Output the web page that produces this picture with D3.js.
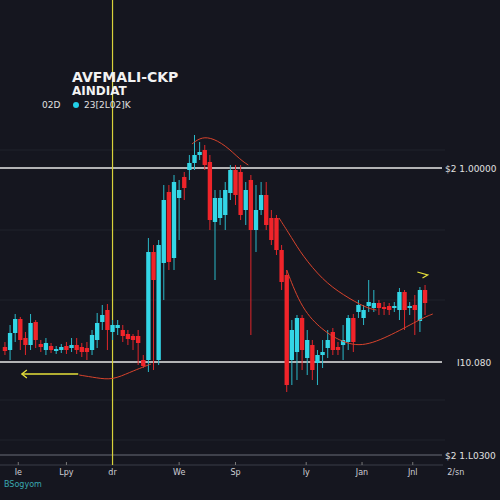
<!DOCTYPE html>
<html>
<head>
<meta charset="utf-8">
<script src="https://cdn.jsdelivr.net/npm/d3@7"></script>
<style>
  body { margin: 0; background: #15161f; }
  text { font-family: "DejaVu Sans", sans-serif; }
</style>
</head>
<body>
<div id="chart-area"></div>
<script>
// candles: [open, close, high, low]
var candles = [
    [153,149,158,145],[150,167,175,140],[167,181,186,158],[181,160,183,150],[162,155,168,145],
    [155,177,186,150],[178,160,180,152],[156,153,160,148],[150,157,162,145],[154,150,157,147],
    [149,151,154,146],[150,153,156,147],[154,150,158,146],[152,155,162,148],[155,150,162,146],
    [153,148,157,143],[152,148,158,140],[150,165,170,145],[160,177,187,152],[178,185,195,170],
    [190,170,196,150],[168,175,180,160],[172,175,180,165],[170,164,175,158],[166,161,170,155],
    [164,160,166,150],[164,157,170,135],[140,134,145,132],[140,248,262,128],[248,220,255,130],
    [140,255,260,135],[237,300,315,200],[308,238,315,230],[242,318,325,230],[302,310,320,260],
    [323,312,328,300],[330,337,345,320],[337,345,365,330],[345,348,358,340],[350,335,355,330],
    [338,280,345,270],[278,302,310,220],[282,302,310,275],[285,310,318,270],[307,330,335,300],
    [330,305,335,295],[328,285,335,280],[290,310,318,275],[320,270,325,165],[270,290,315,248],
    [290,305,318,285],[305,275,318,270],[282,260,290,255],[282,250,285,245],[250,218,255,210],
    [225,115,230,108],[140,170,180,115],[148,182,185,120],[182,150,185,130],[142,160,170,125],
    [155,130,160,120],[137,145,150,115],[145,148,160,132],[152,160,170,142],[168,150,172,145],
    [153,150,158,145],[155,160,175,140],[158,182,185,150],[182,158,186,148],[188,195,200,182],
    [182,190,195,175],[194,198,220,188],[192,197,210,188],[197,192,200,185],[193,191,198,185],
    [194,190,197,185],[192,194,198,188],[190,208,212,180],[208,190,210,170],[192,194,198,185],
    [195,190,205,165],[179,210,213,168],[210,197,215,185]
];

// overlay curves: [index, price]
var curveLow = [[14.5,125],[18,122],[21,120],[24.5,128],[27,133],[28.5,136]];
var curvePeak = [[36.5,356],[38,362],[40,363],[43,355],[46,340],[47.5,335]];
var curveUpper = [[53.5,282],[56,262],[58,245],[62,220],[66,205],[70.5,192],[72.5,190]];
var curveLower = [[55,230],[58,190],[62,170],[65,160],[69.5,152],[75.5,165],[81.5,182],[83.5,186]];
var arrowLine = [[3.3,126],[14.3,126]];

var levelPrices = [332, 138, 45];
var levelLabels = ["$2 1.00000", "I10.080", "$2 1.L0300"];
var monthLabels = ["Ӏe", "Lpy", "dr", "We", "Sp", "Iy", "Jan", "Jnl", "2/sn"];
var monthIndex = [2.6, 12, 21, 34, 45, 58.8, 69.7, 79.6, 88];
var markerIndex = 21;

var width = 500, height = 500;

var svg = d3.select("#chart-area").append("svg")
    .attr("width", width).attr("height", height)
    .style("background", "#15161f");

var x = d3.scaleBand().domain(d3.range(candles.length)).range([2, 428]).padding(0.15);
var xi = d3.scaleLinear().domain([0, candles.length - 1])
    .range([x(0) + x.bandwidth() / 2, x(candles.length - 1) + x.bandwidth() / 2]);
var y = d3.scaleLinear().domain([60, 370]).range([440, 130]);

// faint gridlines
svg.selectAll(".grid").data([150, 230, 300, 400, 440]).enter().append("line")
    .attr("x1", 0).attr("x2", 445)
    .attr("y1", function (d) { return d; }).attr("y2", function (d) { return d; })
    .attr("stroke", "#20222d").attr("stroke-width", 1);

// level lines
svg.selectAll(".level").data(levelPrices).enter().append("line")
    .attr("x1", 0).attr("x2", 442)
    .attr("y1", function (d) { return y(d); }).attr("y2", function (d) { return y(d); })
    .attr("stroke", function (d, i) { return i == 2 ? "#6a6c78" : "#e8e8e8"; })
    .attr("stroke-width", function (d, i) { return i == 2 ? 1 : 1.3; });

svg.selectAll(".levelText").data(levelLabels).enter().append("text")
    .attr("x", function (d, i) { return i == 1 ? 457 : 445; })
    .attr("y", function (d, i) { return y(levelPrices[i]) + 4; })
    .attr("fill", "#e0e0e0").attr("font-size", "9px")
    .text(function (d) { return d; });

// bottom axis
var axisY = 465;
svg.append("line").attr("x1", 0).attr("x2", 443).attr("y1", axisY).attr("y2", axisY)
    .attr("stroke", "#3a3c48");
svg.selectAll(".tick").data(monthIndex.slice(0, 8)).enter().append("line")
    .attr("x1", function (d) { return xi(d); }).attr("x2", function (d) { return xi(d); })
    .attr("y1", axisY - 3).attr("y2", axisY).attr("stroke", "#777");
svg.selectAll(".month").data(monthLabels).enter().append("text")
    .attr("x", function (d, i) { return xi(monthIndex[i]); })
    .attr("y", axisY + 10)
    .attr("text-anchor", "middle")
    .attr("fill", "#cfcfd6").attr("font-size", "8px")
    .text(function (d) { return d; });

// yellow vertical marker
svg.append("line")
    .attr("x1", xi(markerIndex)).attr("x2", xi(markerIndex))
    .attr("y1", 0).attr("y2", axisY)
    .attr("stroke", "#d8d23a").attr("stroke-width", 1.2);

// candles
var gc = svg.append("g");
gc.selectAll(".wick").data(candles).enter().append("line")
    .attr("x1", function (d, i) { return x(i) + x.bandwidth() / 2; })
    .attr("x2", function (d, i) { return x(i) + x.bandwidth() / 2; })
    .attr("y1", function (d) { return y(d[2]); })
    .attr("y2", function (d) { return y(d[3]); })
    .attr("stroke", function (d) { return d[1] >= d[0] ? "#2ab8c8" : "#e0262a"; })
    .attr("stroke-width", 1);
gc.selectAll(".body").data(candles).enter().append("rect")
    .attr("x", function (d, i) { return x(i); })
    .attr("width", x.bandwidth())
    .attr("y", function (d) { return y(Math.max(d[0], d[1])); })
    .attr("height", function (d) { return Math.max(2, Math.abs(y(d[0]) - y(d[1]))); })
    .attr("fill", function (d) { return d[1] >= d[0] ? "#33d6e6" : "#f0242a"; });

// overlay curves
var line = d3.line()
    .x(function (d) { return xi(d[0]); })
    .y(function (d) { return y(d[1]); })
    .curve(d3.curveBasis);
[curveLow, curvePeak, curveUpper, curveLower].forEach(function (c) {
    svg.append("path").attr("d", line(c))
        .attr("fill", "none").attr("stroke", "#d8432c").attr("stroke-width", 1);
});

// yellow arrow
svg.append("path").attr("d", line(arrowLine))
    .attr("stroke", "#e6e03a").attr("stroke-width", 1.3);
svg.append("path")
    .attr("d", "M" + (xi(arrowLine[0][0]) + 5) + "," + (y(126) - 4) + " L" + xi(arrowLine[0][0]) + "," + y(126) + " L" + (xi(arrowLine[0][0]) + 5) + "," + (y(126) + 4))
    .attr("fill", "none").attr("stroke", "#e6e03a").attr("stroke-width", 1.3);
svg.append("path")
    .attr("d", "M" + xi(80.5) + "," + y(228) + " L" + xi(82.5) + "," + y(225) + " L" + xi(81.5) + "," + y(222))
    .attr("fill", "none").attr("stroke", "#e6e03a").attr("stroke-width", 1.3);

// title block
svg.append("text").attr("x", 72).attr("y", 82)
    .attr("fill", "#f2f2f2").attr("font-size", "14px").attr("font-weight", "bold")
    .text("AVFMALI-CKP");
svg.append("text").attr("x", 72).attr("y", 95)
    .attr("fill", "#f2f2f2").attr("font-size", "12px").attr("font-weight", "bold")
    .text("AINDIAT");
svg.append("text").attr("x", 42).attr("y", 108)
    .attr("fill", "#e0e0e0").attr("font-size", "9px").text("02D");
svg.append("circle").attr("cx", 76).attr("cy", 105).attr("r", 3).attr("fill", "#22d0e8");
svg.append("text").attr("x", 84).attr("y", 108)
    .attr("fill", "#e0e0e0").attr("font-size", "9px").text("23[2L02]K");

svg.append("text").attr("x", 4).attr("y", 487)
    .attr("fill", "#3aa8b0").attr("font-size", "8px").text("BSogyom");
</script>
</body>
</html>
